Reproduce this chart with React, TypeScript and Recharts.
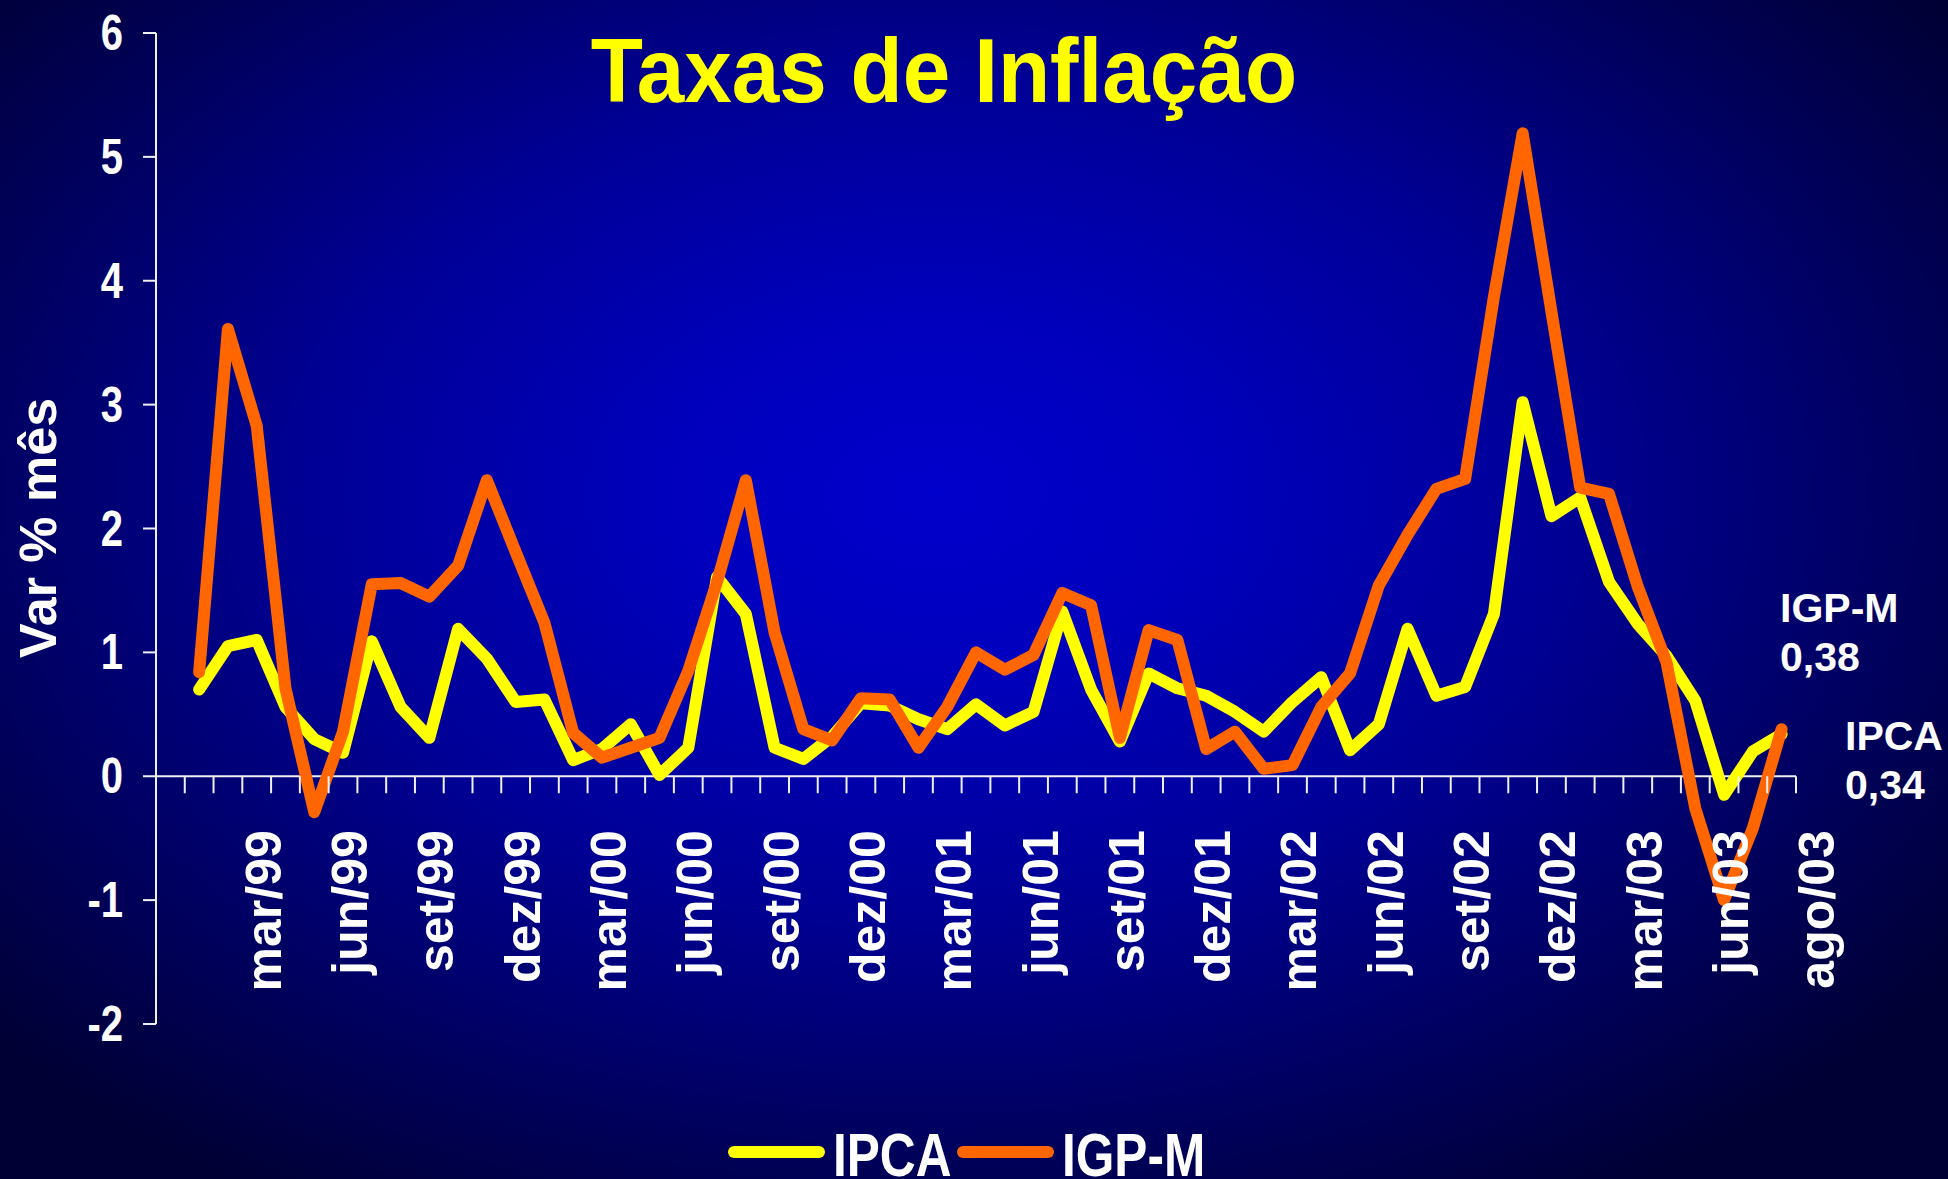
import React from 'react';
import { LineChart, Line, XAxis, YAxis, ReferenceLine, Legend } from 'recharts';

const MONTHS = [
  'jan/99', 'fev/99', 'mar/99', 'abr/99', 'mai/99', 'jun/99', 'jul/99', 'ago/99', 'set/99', 'out/99', 'nov/99', 'dez/99',
  'jan/00', 'fev/00', 'mar/00', 'abr/00', 'mai/00', 'jun/00', 'jul/00', 'ago/00', 'set/00', 'out/00', 'nov/00', 'dez/00',
  'jan/01', 'fev/01', 'mar/01', 'abr/01', 'mai/01', 'jun/01', 'jul/01', 'ago/01', 'set/01', 'out/01', 'nov/01', 'dez/01',
  'jan/02', 'fev/02', 'mar/02', 'abr/02', 'mai/02', 'jun/02', 'jul/02', 'ago/02', 'set/02', 'out/02', 'nov/02', 'dez/02',
  'jan/03', 'fev/03', 'mar/03', 'abr/03', 'mai/03', 'jun/03', 'jul/03', 'ago/03',
];

const IPCA = [
  0.70, 1.05, 1.10, 0.56, 0.30, 0.19, 1.09, 0.56, 0.31, 1.19, 0.95, 0.60,
  0.62, 0.13, 0.22, 0.42, 0.01, 0.23, 1.61, 1.31, 0.23, 0.14, 0.32, 0.59,
  0.57, 0.46, 0.38, 0.58, 0.41, 0.52, 1.33, 0.70, 0.28, 0.83, 0.71, 0.65,
  0.52, 0.36, 0.60, 0.80, 0.21, 0.42, 1.19, 0.65, 0.72, 1.31, 3.02, 2.10,
  2.25, 1.57, 1.23, 0.97, 0.61, -0.15, 0.20, 0.34,
];

const IGPM = [
  0.84, 3.61, 2.83, 0.71, -0.29, 0.36, 1.55, 1.56, 1.45, 1.70, 2.39, 1.81,
  1.24, 0.35, 0.15, 0.23, 0.31, 0.85, 1.57, 2.39, 1.16, 0.38, 0.29, 0.63,
  0.62, 0.23, 0.56, 1.00, 0.86, 0.98, 1.48, 1.38, 0.31, 1.18, 1.10, 0.22,
  0.36, 0.06, 0.09, 0.56, 0.83, 1.54, 1.95, 2.32, 2.40, 3.87, 5.19, 3.75,
  2.33, 2.28, 1.53, 0.92, -0.26, -1.00, -0.42, 0.38,
];

const X_LABELS = [
  'mar/99', 'jun/99', 'set/99', 'dez/99', 'mar/00', 'jun/00', 'set/00', 'dez/00',
  'mar/01', 'jun/01', 'set/01', 'dez/01', 'mar/02', 'jun/02', 'set/02', 'dez/02',
  'mar/03', 'jun/03',
];
const END_LABEL = 'ago/03';
const Y_TICKS = [-2, -1, 0, 1, 2, 3, 4, 5, 6];
const Y_MIN = -2;
const Y_MAX = 6;
const SERIES = ['IPCA', 'IGP-M'];

const TITLE = 'Taxas de Inflação';
const Y_TITLE = 'Var % mês';

const W = 1948;
const H = 1179;
const PLOT_TOP = 33;
const PLOT_BOTTOM = 1024;
const PLOT_LEFT = 156;
const PLOT_RIGHT = 1796;
const XAXIS_H = 30;
const ZERO_Y = PLOT_TOP + ((PLOT_BOTTOM - PLOT_TOP) * Y_MAX) / (Y_MAX - Y_MIN);

const YELLOW = '#FFFF00';
const ORANGE = '#FF6600';
const AXIS = '#F0F0F0';
const ARIAL = "'Liberation Sans', Arial, sans-serif";
const NARROW_SCALE = 0.8;

const data = MONTHS.map((m, i) => ({ i, month: m, IPCA: IPCA[i], 'IGP-M': IGPM[i] }));

// boundaries between categories (tick marks) + label positions
const boundaryTicks = MONTHS.map((_, i) => i - 0.5).concat([MONTHS.length - 0.5]);
const labelTicks = X_LABELS.map((l) => MONTHS.indexOf(l)).concat([MONTHS.length]);
const X_TICKS = [...boundaryTicks, ...labelTicks];

const XTick = (props: any) => {
  const { x, payload } = props;
  const v = payload.value as number;
  if (!Number.isInteger(v)) {
    return <line x1={x} x2={x} y1={ZERO_Y} y2={ZERO_Y + 17} stroke={AXIS} strokeWidth={2} />;
  }
  const label = v < MONTHS.length ? MONTHS[v] : END_LABEL;
  return (
    <text
      transform={`translate(${x + 24},${ZERO_Y + 54}) rotate(-90)`}
      textAnchor="end"
      fill="#FFFFFF"
      fontSize={50}
      fontWeight="bold"
      fontFamily={ARIAL}
    >
      {label}
    </text>
  );
};

const YTick = (props: any) => {
  const { x, y, payload } = props;
  return (
    <text
      transform={`translate(${x},${y}) scale(${NARROW_SCALE},1)`}
      textAnchor="end"
      dy="0.34em"
      fill="#FFFFFF"
      fontSize={50}
      fontWeight="bold"
      fontFamily={ARIAL}
    >
      {payload.value}
    </text>
  );
};

const LegendContent = (props: any) => {
  const { payload } = props;
  const items = SERIES.map((name) => (payload || []).find((p: any) => p.value === name)).filter(Boolean);
  return (
    <svg width={520} height={69} style={{ overflow: 'visible', display: 'block' }}>
      {items.map((p: any, k: number) => {
        const x0 = k * 229;
        return (
          <g key={p.value}>
            <line x1={x0 + 6} x2={x0 + 91} y1={42} y2={42} stroke={p.color} strokeWidth={12} strokeLinecap="round" />
            <text
              transform={`translate(${x0 + 105},66) scale(${NARROW_SCALE},1)`}
              fill="#FFFFFF"
              fontSize={62}
              fontWeight="bold"
              fontFamily={ARIAL}
            >
              {p.value}
            </text>
          </g>
        );
      })}
    </svg>
  );
};

const fmt = (v: number) => v.toFixed(2).replace('.', ',');

export default function App() {
  return (
    <div
      style={{
        position: 'absolute',
        left: 0,
        top: 0,
        width: W,
        height: H,
        overflow: 'hidden',
        background:
          'radial-gradient(ellipse 64% 70% at 48% 42%, #0000CC 0%, #0000BC 22%, #000096 50%, #00005E 78%, #000035 100%)',
      }}
    >
      <LineChart
        width={W}
        height={H}
        data={data}
        margin={{ top: PLOT_TOP, right: W - PLOT_RIGHT, left: 0, bottom: H - PLOT_BOTTOM - XAXIS_H }}
      >
        <XAxis
          dataKey="i"
          type="number"
          domain={[-1.5, MONTHS.length - 0.5]}
          allowDataOverflow
          ticks={X_TICKS}
          interval={0}
          axisLine={false}
          tickLine={false}
          tick={<XTick />}
          height={XAXIS_H}
        />
        <YAxis
          type="number"
          domain={[Y_MIN, Y_MAX]}
          ticks={Y_TICKS}
          interval={0}
          allowDataOverflow
          width={PLOT_LEFT}
          tickSize={13}
          tickMargin={20}
          axisLine={{ stroke: AXIS, strokeWidth: 2 }}
          tickLine={{ stroke: AXIS, strokeWidth: 2 }}
          tick={<YTick />}
        />
        <ReferenceLine y={0} stroke={AXIS} strokeWidth={2} />
        <Legend
          layout="horizontal"
          verticalAlign="middle"
          align="center"
          itemSorter={null as any}
          wrapperStyle={{ left: 728, top: 1110, width: 520, height: 69 }}
          content={<LegendContent />}
        />
        <Line
          type="linear"
          dataKey="IPCA"
          stroke={YELLOW}
          strokeWidth={12}
          strokeLinejoin="round"
          strokeLinecap="round"
          dot={false}
          activeDot={false}
          isAnimationActive={false}
        />
        <Line
          type="linear"
          dataKey="IGP-M"
          stroke={ORANGE}
          strokeWidth={12}
          strokeLinejoin="round"
          strokeLinecap="round"
          dot={false}
          activeDot={false}
          isAnimationActive={false}
        />
      </LineChart>
      <svg
        width={W}
        height={H}
        style={{ position: 'absolute', left: 0, top: 0, pointerEvents: 'none' }}
      >
        <text
          transform="translate(944,102) scale(0.95,1)"
          textAnchor="middle"
          fill={YELLOW}
          fontSize={90}
          fontWeight="bold"
          fontFamily={ARIAL}
        >
          {TITLE}
        </text>
        <text
          transform="translate(56,528) rotate(-90)"
          textAnchor="middle"
          fill="#FFFFFF"
          fontSize={52}
          fontWeight="bold"
          fontFamily={ARIAL}
        >
          {Y_TITLE}
        </text>
        <g fill="#FFFFFF" fontSize={41} fontWeight="bold" fontFamily={ARIAL}>
          <text x={1780} y={622}>IGP-M</text>
          <text x={1780} y={671}>{fmt(IGPM[IGPM.length - 1])}</text>
          <text x={1845} y={750}>IPCA</text>
          <text x={1845} y={799}>{fmt(IPCA[IPCA.length - 1])}</text>
        </g>
      </svg>
    </div>
  );
}
